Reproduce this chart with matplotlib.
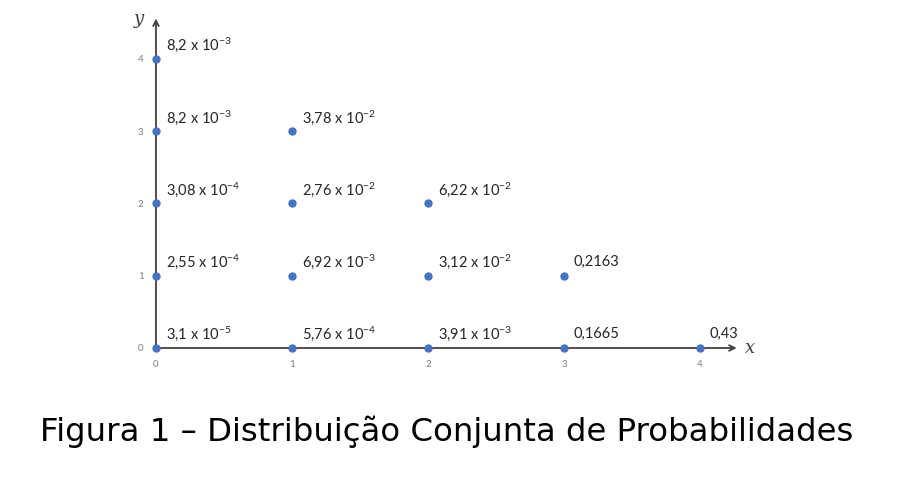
import matplotlib
matplotlib.use("Agg")
import matplotlib.pyplot as plt

# joint distribution points (x, y) and their probability labels
xs = [0, 0, 0, 0, 0, 1, 1, 1, 1, 2, 2, 2, 3, 3, 4]
ys = [0, 1, 2, 3, 4, 0, 1, 2, 3, 0, 1, 2, 0, 1, 0]
labels = [
    r"3,1 x 10$^{-5}$", r"2,55 x 10$^{-4}$", r"3,08 x 10$^{-4}$", r"8,2 x 10$^{-3}$", r"8,2 x 10$^{-3}$",
    r"5,76 x 10$^{-4}$", r"6,92 x 10$^{-3}$", r"2,76 x 10$^{-2}$", r"3,78 x 10$^{-2}$",
    r"3,91 x 10$^{-3}$", r"3,12 x 10$^{-2}$", r"6,22 x 10$^{-2}$",
    "0,1665", "0,2163",
    "0,43",
]
x_ticks = [0, 1, 2, 3, 4]
y_ticks = [0, 1, 2, 3, 4]
caption = "Figura 1 – Distribuição Conjunta de Probabilidades"

plt.rcParams["mathtext.fontset"] = "custom"
plt.rcParams["mathtext.rm"] = "Lato"
plt.rcParams["mathtext.it"] = "Lato:italic"

fig = plt.figure(figsize=(9.02, 4.79), dpi=100)
ax = fig.add_axes([0.1729, 0.2735, 0.6408, 0.6848])
ax.set_xlim(0, 4.25)
ax.set_ylim(0, 4.54)

for s in ax.spines.values():
    s.set_visible(False)

axis_col = "#404040"
ax.annotate("", xy=(4.27, 0), xytext=(0, 0),
            arrowprops=dict(arrowstyle="->", color=axis_col, lw=1.3, shrinkA=0, shrinkB=0),
            annotation_clip=False)
ax.annotate("", xy=(0, 4.56), xytext=(0, 0),
            arrowprops=dict(arrowstyle="->", color=axis_col, lw=1.3, shrinkA=0, shrinkB=0),
            annotation_clip=False)

ax.plot(xs, ys, "o", color="#4472C4", markersize=5, clip_on=False, zorder=3)

for x, y, lab in zip(xs, ys, labels):
    ax.annotate(lab, (x, y), xytext=(7, 10), textcoords="offset points",
                fontsize=10.5, family="Lato", color="#262626", ha="left", va="center")

ax.set_xticks(x_ticks)
ax.set_yticks(y_ticks)
ax.tick_params(length=0, labelsize=7, labelcolor="#7f7f7f", pad=9)
for t in ax.get_xticklabels() + ax.get_yticklabels():
    t.set_family("Lato")

ax.text(4.33, 0, "x", fontsize=13, family="DejaVu Serif", style="italic",
        color=axis_col, ha="left", va="center")
ax.text(-0.13, 4.55, "y", fontsize=13, family="DejaVu Serif", style="italic",
        color=axis_col, ha="center", va="center")

fig.text(0.495, 0.098, caption, fontsize=23.3, family="DejaVu Sans",
         ha="center", va="center", color="black")

fig.savefig("out.png", dpi=100)
